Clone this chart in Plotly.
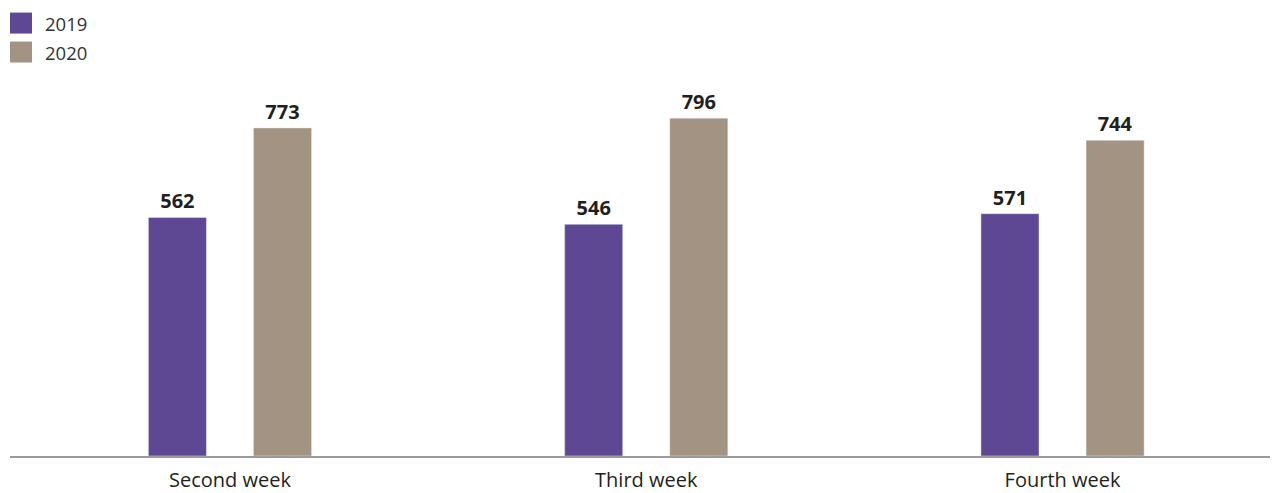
import plotly.graph_objects as go

categories = ["Second week", "Third week", "Fourth week"]
values_2019 = [562, 546, 571]
values_2020 = [773, 796, 744]
series_names = ["2019", "2020"]

# page has an 8px body margin on top/left
W, H = 1270, 485
L, R = 2, 0
B = 37
plot_h = 382.5
T = H - B - plot_h
plot_w = W - L - R

c_2019 = "#5e4893"
c_2020 = "#a39382"
txt = "#231f20"
font_fam = "Open Sans, Noto Sans, sans-serif"

bar_w = 0.1395

fig = go.Figure()
fig.add_trace(go.Bar(
    x=list(range(len(categories))), y=values_2019, name=series_names[0],
    marker_color=c_2019, width=bar_w, offset=-0.196,
    text=values_2019, textposition="outside", cliponaxis=False,
    textfont=dict(family=font_fam, size=20, color=txt, weight="bold"),
    showlegend=False,
))
fig.add_trace(go.Bar(
    x=list(range(len(categories))), y=values_2020, name=series_names[1],
    marker_color=c_2020, width=bar_w, offset=0.0565,
    text=values_2020, textposition="outside", cliponaxis=False,
    textfont=dict(family=font_fam, size=20, color=txt, weight="bold"),
    showlegend=False,
))

# legend drawn as shapes + text (coordinates in figure pixels)
def px_x(p):
    return (p - L) / plot_w

def px_y(p):
    return (H - B - p) / plot_h

for i, (nm, col) in enumerate(zip(series_names, [c_2019, c_2020])):
    y0 = 4 + i * 29
    fig.add_shape(type="rect", xref="paper", yref="paper",
                  x0=px_x(2), x1=px_x(24), y0=px_y(y0 + 21), y1=px_y(y0),
                  fillcolor=col, line_width=0)
    fig.add_annotation(xref="paper", yref="paper", x=px_x(35), y=px_y(y0 + 10.5),
                       text=nm, showarrow=False, xanchor="left", yanchor="middle",
                       font=dict(family=font_fam, size=18.5, color="#333333"))

fig.update_layout(
    width=W, height=H,
    margin=dict(l=L, r=R, t=T, b=B, pad=0, autoexpand=False),
    plot_bgcolor="white", paper_bgcolor="white",
    barmode="overlay",
    xaxis=dict(
        range=[-0.5284, 2.5176], automargin=False,
        tickmode="array", tickvals=list(range(len(categories))), ticktext=categories,
        showgrid=False, zeroline=False, showline=True, linecolor="#9a9a9a", linewidth=1.5,
        ticks="", ticklabelstandoff=5,
        tickfont=dict(family=font_fam, size=20, color=txt),
    ),
    yaxis=dict(range=[0, 900], visible=False, showgrid=False, zeroline=False,
               automargin=False),
)

fig.write_html("out.html")
